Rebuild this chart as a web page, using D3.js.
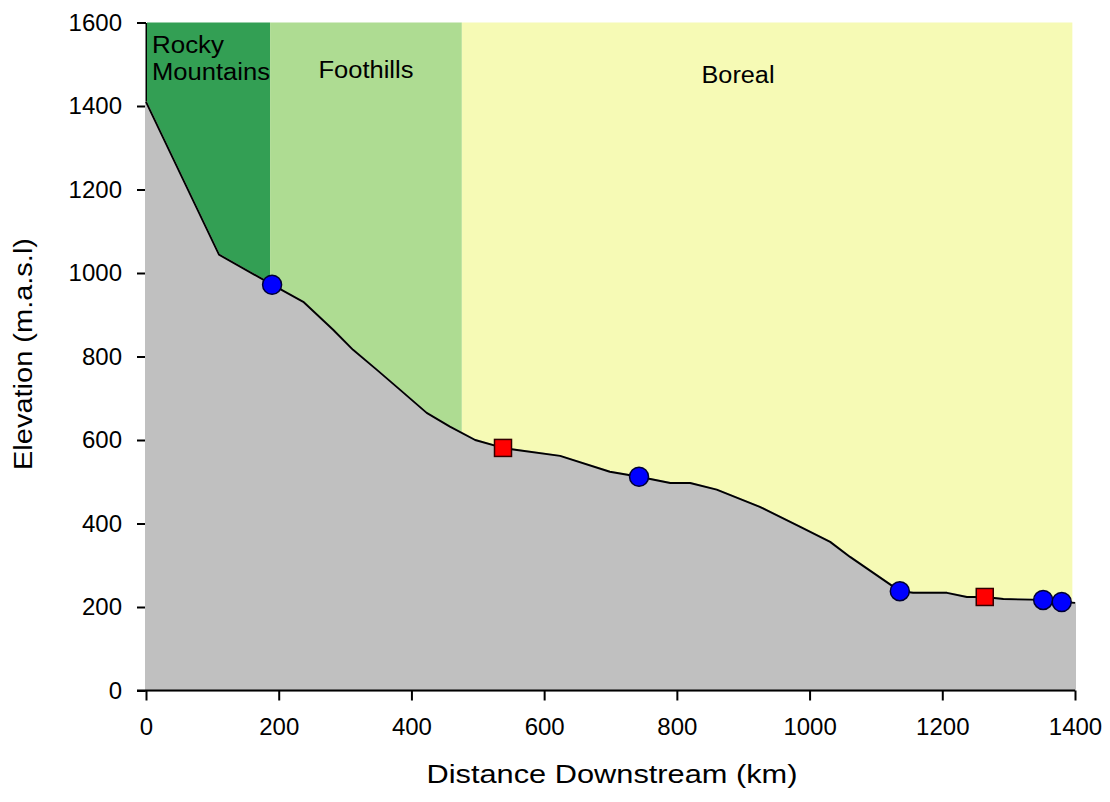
<!DOCTYPE html>
<html>
<head>
<meta charset="utf-8">
<script src="https://cdn.jsdelivr.net/npm/d3@7"></script>
<style>
  body { margin: 0; background: #fff; }
  svg { display: block; font-family: "Liberation Sans", Arial, sans-serif; }
</style>
</head>
<body>
<div id="chart"></div>
<script>
// river profile (km downstream, elevation m.a.s.l)
var profileKm = [0, 110, 190, 237, 282, 312, 348, 383, 423, 458, 496, 538, 559, 624, 699, 743, 790, 820, 860, 925, 986, 1031, 1061, 1136, 1156, 1207, 1237, 1264, 1292, 1352, 1380, 1400];
var profileElev = [1410, 1044, 972, 931, 864, 816, 768, 720, 665, 632, 600, 581, 576, 562, 524, 512, 497, 497, 481, 440, 392, 356, 320, 238, 234, 234, 224, 224, 219, 217, 212, 210];

// ecozones
var zoneNames = ['Rocky Mountains', 'Foothills', 'Boreal'];
var zoneStart = [0, 187, 476];
var zoneEnd = [187, 476, 1396];
var zoneColors = ['#339f54', '#aedc92', '#f6fab5'];

// sampling sites
var circleKm = [190, 743, 1136, 1352, 1380];
var circleElev = [972, 512, 238, 217, 212];
var squareKm = [538, 1264];
var squareElev = [581, 224];

var xTicks = [0, 200, 400, 600, 800, 1000, 1200, 1400];
var yTicks = [0, 200, 400, 600, 800, 1000, 1200, 1400, 1600];

var width = 1110, height = 802;

var svg = d3.select('#chart')
  .append('svg')
  .attr('width', width)
  .attr('height', height);

var x = d3.scaleLinear().domain([0, 1400]).range([146, 1075]);
var y = d3.scaleLinear().domain([0, 1600]).range([690.5, 22.5]);
var fmt = d3.format('d');

// y axis first so the ground fill sits over its lower part
var yAxis = svg.append('g')
  .attr('transform', 'translate(' + x(0) + ',0)')
  .call(d3.axisLeft(y).tickValues(yTicks).tickFormat(fmt).tickSize(9).tickSizeOuter(0).tickPadding(15));

// zone bands
var zones = zoneNames.map(function (n, i) {
  return { name: n, start: zoneStart[i], end: zoneEnd[i], color: zoneColors[i] };
});

svg.selectAll('rect.zone')
  .data(zones)
  .enter()
  .append('rect')
  .attr('class', 'zone')
  .attr('x', function (d) { return x(d.start) + (d.start === 0 ? 1 : 0); })
  .attr('y', y(1600))
  .attr('width', function (d) { return x(d.end) - x(d.start) - (d.start === 0 ? 1 : 0); })
  .attr('height', y(0) - y(1600))
  .attr('fill', function (d) { return d.color; });

var profile = profileKm.map(function (k, i) { return [k, profileElev[i]]; });

// ground
svg.append('path')
  .datum(profile)
  .attr('fill', '#c0c0c0')
  .attr('stroke', '#c0c0c0')
  .attr('stroke-width', 2)
  .attr('d', d3.area()
    .x(function (d) { return x(d[0]); })
    .y0(y(0))
    .y1(function (d) { return y(d[1]); }));

// river line
svg.append('path')
  .datum(profile)
  .attr('fill', 'none')
  .attr('stroke', '#000')
  .attr('stroke-width', 1.9)
  .attr('stroke-linejoin', 'round')
  .attr('d', d3.line()
    .x(function (d) { return x(d[0]); })
    .y(function (d) { return y(d[1]); }));

var xAxis = svg.append('g')
  .attr('transform', 'translate(0,' + y(0) + ')')
  .call(d3.axisBottom(x).tickValues(xTicks).tickFormat(fmt).tickSize(10).tickSizeOuter(0).tickPadding(17));

[xAxis, yAxis].forEach(function (ax) {
  ax.attr('font-size', null).attr('font-family', null);
  ax.select('.domain').attr('stroke', '#000').attr('stroke-width', 2);
  ax.selectAll('.tick line').attr('stroke', '#000').attr('stroke-width', 2);
  ax.selectAll('.tick text')
    .style('font-family', '"Liberation Sans", Arial, sans-serif')
    .style('font-size', '24px')
    .attr('fill', '#000');
});
xAxis.select('.domain').attr('d', 'M' + (x(0) - 9) + ',0H' + x(1400));

// markers
svg.selectAll('circle.site')
  .data(circleKm)
  .enter()
  .append('circle')
  .attr('class', 'site')
  .attr('cx', function (d) { return x(d); })
  .attr('cy', function (d, i) { return y(circleElev[i]); })
  .attr('r', 9.5)
  .attr('fill', '#0000ff')
  .attr('stroke', '#000033')
  .attr('stroke-width', 1.5);

var sq = 17;
svg.selectAll('rect.site')
  .data(squareKm)
  .enter()
  .append('rect')
  .attr('class', 'site')
  .attr('x', function (d) { return x(d) - sq / 2; })
  .attr('y', function (d, i) { return y(squareElev[i]) - sq / 2; })
  .attr('width', sq)
  .attr('height', sq)
  .attr('fill', '#ff0000')
  .attr('stroke', '#330000')
  .attr('stroke-width', 1.5);

// zone labels
function label(txt, px, py, anchor, len) {
  svg.append('text')
    .attr('x', px)
    .attr('y', py)
    .attr('text-anchor', anchor)
    .attr('font-size', '23px')
    .attr('fill', '#000')
    .attr('textLength', len)
    .attr('lengthAdjust', 'spacingAndGlyphs')
    .text(txt);
}
var rocky = zoneNames[0].split(' ');
label(rocky[0], x(zoneStart[0]) + 6, 53, 'start', 72);
label(rocky[1], x(zoneStart[0]) + 6, 80, 'start', 118);
label(zoneNames[1], (x(zoneStart[1]) + x(zoneEnd[1])) / 2, 78, 'middle', 95);
label(zoneNames[2], 738, 83, 'middle', 73);

// axis titles
svg.append('text')
  .attr('x', 612)
  .attr('y', 783)
  .attr('text-anchor', 'middle')
  .attr('font-size', '25px')
  .attr('textLength', 371)
  .attr('lengthAdjust', 'spacingAndGlyphs')
  .text('Distance Downstream (km)');

svg.append('text')
  .attr('transform', 'translate(32,354) rotate(-90)')
  .attr('text-anchor', 'middle')
  .attr('font-size', '25px')
  .attr('textLength', 232)
  .attr('lengthAdjust', 'spacingAndGlyphs')
  .text('Elevation (m.a.s.l)');
</script>
</body>
</html>
